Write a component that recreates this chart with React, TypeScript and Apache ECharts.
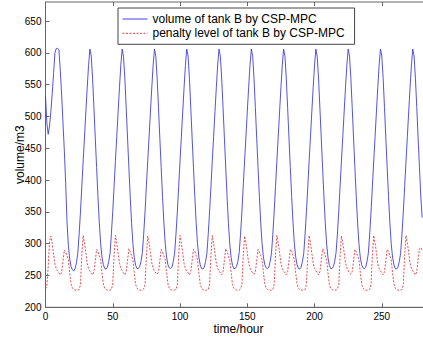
import React, { useEffect, useRef } from 'react';
import * as echarts from 'echarts';

// hourly samples, t = 0 .. 280 h
const volumeB: number[] = [
  532, 490, 472, 485, 508, 536, 568, 600, 607, 607, 605, 572, 534, 490, 446, 395, 334, 297, 276, 264, 259, 257, 261, 270,
  285, 315, 350, 390, 430, 468, 507, 545, 580, 606, 595, 560, 514, 466, 420, 374, 333, 300, 279, 267, 261, 260, 263, 272,
  285, 316, 351, 390, 431, 469, 508, 546, 581, 606, 594, 559, 513, 466, 419, 373, 332, 299, 278, 266, 261, 261, 264, 272,
  286, 315, 350, 391, 430, 468, 507, 545, 580, 606, 595, 560, 514, 466, 420, 374, 333, 300, 279, 267, 262, 261, 263, 272,
  285, 315, 350, 390, 430, 468, 507, 545, 580, 606, 595, 560, 514, 466, 420, 374, 333, 300, 279, 267, 261, 260, 263, 272,
  285, 316, 351, 390, 431, 469, 508, 546, 581, 606, 594, 559, 513, 466, 419, 373, 332, 299, 278, 266, 261, 261, 264, 272,
  286, 315, 350, 391, 430, 468, 507, 545, 580, 606, 595, 560, 514, 466, 420, 374, 333, 300, 279, 267, 262, 261, 263, 272,
  285, 315, 350, 390, 430, 468, 507, 545, 580, 606, 595, 560, 514, 466, 420, 374, 333, 300, 279, 267, 261, 260, 263, 272,
  285, 316, 351, 390, 431, 469, 508, 546, 581, 606, 594, 559, 513, 466, 419, 373, 332, 299, 278, 266, 261, 261, 264, 272,
  286, 315, 350, 391, 430, 468, 507, 545, 580, 606, 595, 560, 514, 466, 420, 374, 333, 300, 279, 267, 262, 261, 263, 272,
  285, 315, 350, 390, 430, 468, 507, 545, 580, 606, 595, 560, 514, 466, 420, 374, 333, 300, 279, 267, 261, 260, 263, 272,
  285, 315, 350, 390, 430, 468, 507, 545, 580, 606, 595, 560, 514, 466, 420, 374, 341,
];

const penaltyB: number[] = [
  229, 233, 264, 304, 312, 300, 284, 268, 261, 257, 254, 251, 255, 272, 290, 287, 281, 275, 253, 237, 230, 228, 227, 227,
  227, 228, 236, 282, 313, 301, 286, 269, 261, 257, 254, 251, 256, 273, 291, 288, 281, 275, 254, 237, 230, 228, 227, 227,
  227, 228, 237, 283, 313, 300, 285, 269, 261, 258, 254, 251, 256, 274, 292, 288, 281, 274, 254, 236, 230, 228, 227, 227,
  227, 229, 236, 281, 312, 301, 286, 270, 262, 257, 254, 252, 256, 273, 291, 287, 281, 275, 255, 237, 230, 228, 227, 227,
  227, 228, 236, 282, 313, 301, 286, 269, 261, 257, 254, 251, 256, 273, 291, 288, 281, 275, 254, 237, 230, 228, 227, 227,
  227, 228, 237, 283, 313, 300, 285, 269, 261, 258, 254, 251, 256, 274, 292, 288, 281, 274, 254, 236, 230, 228, 227, 227,
  227, 229, 236, 281, 312, 301, 286, 270, 262, 257, 254, 252, 256, 273, 291, 287, 281, 275, 255, 237, 230, 228, 227, 227,
  227, 228, 236, 282, 313, 301, 286, 269, 261, 257, 254, 251, 256, 273, 291, 288, 281, 275, 254, 237, 230, 228, 227, 227,
  227, 228, 237, 283, 313, 300, 285, 269, 261, 258, 254, 251, 256, 274, 292, 288, 281, 274, 254, 236, 230, 228, 227, 227,
  227, 229, 236, 281, 312, 301, 286, 270, 262, 257, 254, 252, 256, 273, 291, 287, 281, 275, 255, 237, 230, 228, 227, 227,
  227, 228, 236, 282, 313, 301, 286, 269, 261, 257, 254, 251, 256, 273, 291, 288, 281, 275, 254, 237, 230, 228, 227, 227,
  227, 228, 236, 282, 313, 301, 286, 269, 261, 257, 254, 251, 256, 276, 292, 294, 290,
];

const seriesNames = ['volume of tank B by CSP-MPC', 'penalty level of tank B by CSP-MPC'];
const xName = 'time/hour';
const yName = 'volume/m3';

export default function App() {
  const ref = useRef<HTMLDivElement>(null);
  useEffect(() => {
    if (!ref.current) return;
    const chart = echarts.init(ref.current, null, { renderer: 'svg' });
    const font = "'Liberation Sans', Arial, Helvetica, sans-serif";
    const axisColor = '#666';
    chart.setOption({
      animation: false,
      backgroundColor: '#fff',
      textStyle: { fontFamily: font },
      grid: {
        left: 45.5, top: 2, width: 378, height: 305.3,
        containLabel: false, outerBoundsMode: 'none',
        show: true, borderColor: axisColor, borderWidth: 1, backgroundColor: 'transparent',
      },
      legend: {
        orient: 'vertical', left: 118, top: 8,
        padding: [4, 10, 4, 4],
        itemWidth: 25, itemHeight: 10, itemGap: 0.3,
        backgroundColor: '#fff', borderColor: '#444', borderWidth: 1, borderRadius: 0,
        itemStyle: { opacity: 0 },
        lineStyle: { width: 1 },
        textStyle: { fontSize: 12, fontFamily: font, color: '#000', lineHeight: 14 },
        data: seriesNames,
      },
      xAxis: [
        {
          type: 'value', min: 0, max: 281, interval: 50, position: 'bottom',
          axisLine: { show: true, lineStyle: { color: axisColor, width: 1 } },
          axisTick: { show: true, inside: true, length: 4, lineStyle: { color: axisColor } },
          axisLabel: { color: '#000', fontSize: 10, fontFamily: font, margin: 4, showMaxLabel: false },
          splitLine: { show: false },
          name: xName, nameLocation: 'middle', nameGap: 16, nameMoveOverlap: false,
          nameTextStyle: { fontSize: 12, fontFamily: font, color: '#000', padding: [0, 0, 0, 8] },
        },
        {
          type: 'value', min: 0, max: 281, interval: 50, position: 'top',
          axisLine: { show: false },
          axisTick: { show: true, inside: true, length: 4, lineStyle: { color: axisColor } },
          axisLabel: { show: false },
          splitLine: { show: false },
        },
      ],
      yAxis: [
        {
          type: 'value', min: 200, max: 680, interval: 50, position: 'left',
          axisLine: { show: true, lineStyle: { color: axisColor, width: 1 } },
          axisTick: { show: true, inside: true, length: 4, lineStyle: { color: axisColor } },
          axisLabel: { color: '#000', fontSize: 10, fontFamily: font, margin: 4, showMaxLabel: false },
          splitLine: { show: false },
          name: yName, nameLocation: 'middle', nameGap: 20, nameMoveOverlap: false,
          nameTextStyle: { fontSize: 12, fontFamily: font, color: '#000' },
        },
      ],
      series: [
        {
          type: 'line', name: seriesNames[0], xAxisIndex: 0, yAxisIndex: 0,
          data: volumeB.map((v, i) => [i, v]),
          symbol: 'none', showSymbol: false,
          lineStyle: { color: '#4040dc', width: 0.9 },
          itemStyle: { color: '#4040dc' },
        },
        {
          type: 'line', name: seriesNames[1], xAxisIndex: 0, yAxisIndex: 0,
          data: penaltyB.map((v, i) => [i, v]),
          symbol: 'none', showSymbol: false,
          lineStyle: { color: '#e8383c', width: 0.9, type: [2, 1.5] },
          itemStyle: { color: '#e8383c' },
        },
      ],
    });
    return () => chart.dispose();
  }, []);
  return (
    <div
      ref={ref}
      style={{ position: 'fixed', left: 0, top: 0, width: 423, height: 338, background: '#fff' }}
    />
  );
}
